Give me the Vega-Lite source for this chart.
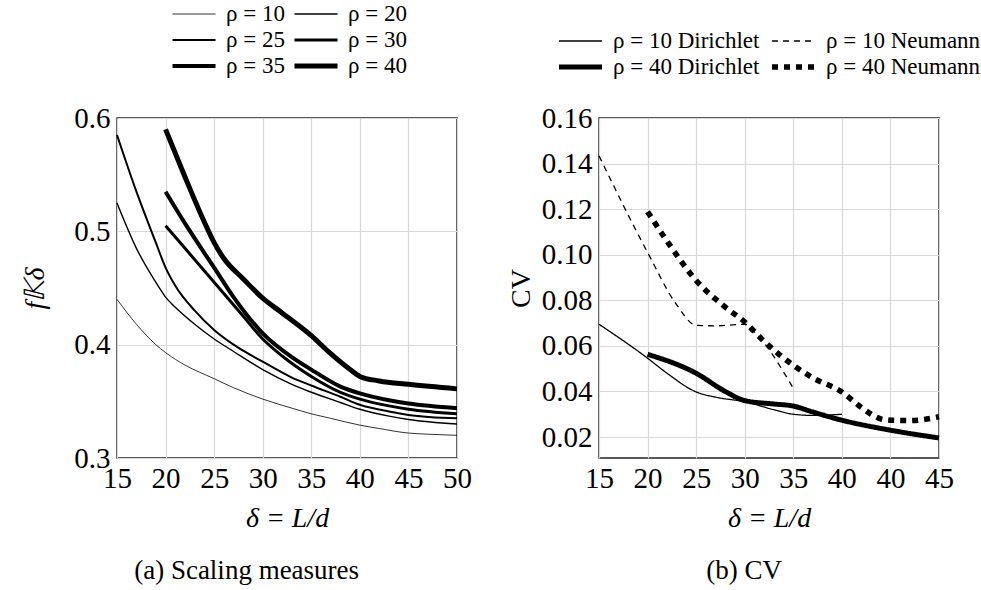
{
  "$schema": "https://vega.github.io/schema/vega-lite/v6.json",
  "padding": {"left": 21, "top": 0, "right": 5, "bottom": 0},
  "background": "white",
  "config": {
    "font": "Liberation Serif",
    "view": {"stroke": "#222", "strokeWidth": 1.5},
    "axis": {
      "grid": true, "gridColor": "#d8d8d8", "gridWidth": 1.2,
      "domain": false, "ticks": false, "labelFlush": false, "labelOverlap": false,
      "labelFontSize": 29, "labelColor": "black", "labelFont": "Liberation Serif",
      "titleFontSize": 28, "titleFontWeight": "normal", "titleColor": "black", "titleFont": "Liberation Serif"
    },
    "legend": {
      "symbolType": "stroke", "symbolSize": 1849, "symbolStrokeColor": "black",
      "labelFontSize": 23, "labelColor": "black", "labelFont": "Liberation Serif",
      "clipHeight": 26, "rowPadding": 0, "labelOffset": 8, "direction": "horizontal"
    },
    "title": {"fontSize": 27, "fontWeight": "normal", "color": "black", "font": "Liberation Serif"}
  },
  "spacing": 33,
  "resolve": {
    "scale": {"strokeWidth": "independent", "strokeDash": "independent"},
    "legend": {"strokeWidth": "independent", "strokeDash": "independent"}
  },
  "hconcat": [
    {
      "width": 340,
      "height": 340,
      "title": {"text": "(a)  Scaling measures", "orient": "bottom", "anchor": "middle", "frame": "bounds", "offset": 26},
      "data": {"values": [
        {"rho": "ρ = 10", "delta": 15, "f": 0.440}, {"rho": "ρ = 10", "delta": 17, "f": 0.418}, {"rho": "ρ = 10", "delta": 19, "f": 0.400}, {"rho": "ρ = 10", "delta": 20, "f": 0.393}, {"rho": "ρ = 10", "delta": 22, "f": 0.382}, {"rho": "ρ = 10", "delta": 25, "f": 0.370}, {"rho": "ρ = 10", "delta": 27, "f": 0.362}, {"rho": "ρ = 10", "delta": 30, "f": 0.352}, {"rho": "ρ = 10", "delta": 33, "f": 0.344}, {"rho": "ρ = 10", "delta": 35, "f": 0.339}, {"rho": "ρ = 10", "delta": 37, "f": 0.335}, {"rho": "ρ = 10", "delta": 40, "f": 0.329}, {"rho": "ρ = 10", "delta": 42, "f": 0.326}, {"rho": "ρ = 10", "delta": 45, "f": 0.322}, {"rho": "ρ = 10", "delta": 47, "f": 0.321}, {"rho": "ρ = 10", "delta": 50, "f": 0.320},
        {"rho": "ρ = 20", "delta": 15, "f": 0.525}, {"rho": "ρ = 20", "delta": 17, "f": 0.485}, {"rho": "ρ = 20", "delta": 19, "f": 0.455}, {"rho": "ρ = 20", "delta": 20, "f": 0.442}, {"rho": "ρ = 20", "delta": 21, "f": 0.433}, {"rho": "ρ = 20", "delta": 23, "f": 0.418}, {"rho": "ρ = 20", "delta": 25, "f": 0.405}, {"rho": "ρ = 20", "delta": 27, "f": 0.394}, {"rho": "ρ = 20", "delta": 30, "f": 0.378}, {"rho": "ρ = 20", "delta": 33, "f": 0.365}, {"rho": "ρ = 20", "delta": 35, "f": 0.358}, {"rho": "ρ = 20", "delta": 38, "f": 0.349}, {"rho": "ρ = 20", "delta": 40, "f": 0.343}, {"rho": "ρ = 20", "delta": 43, "f": 0.337}, {"rho": "ρ = 20", "delta": 45, "f": 0.334}, {"rho": "ρ = 20", "delta": 50, "f": 0.330},
        {"rho": "ρ = 25", "delta": 15, "f": 0.585}, {"rho": "ρ = 25", "delta": 17, "f": 0.535}, {"rho": "ρ = 25", "delta": 19, "f": 0.490}, {"rho": "ρ = 25", "delta": 20, "f": 0.468}, {"rho": "ρ = 25", "delta": 21, "f": 0.452}, {"rho": "ρ = 25", "delta": 23, "f": 0.430}, {"rho": "ρ = 25", "delta": 25, "f": 0.413}, {"rho": "ρ = 25", "delta": 27, "f": 0.400}, {"rho": "ρ = 25", "delta": 30, "f": 0.385}, {"rho": "ρ = 25", "delta": 33, "f": 0.371}, {"rho": "ρ = 25", "delta": 35, "f": 0.364}, {"rho": "ρ = 25", "delta": 38, "f": 0.354}, {"rho": "ρ = 25", "delta": 40, "f": 0.347}, {"rho": "ρ = 25", "delta": 43, "f": 0.341}, {"rho": "ρ = 25", "delta": 45, "f": 0.338}, {"rho": "ρ = 25", "delta": 50, "f": 0.335},
        {"rho": "ρ = 30", "delta": 20, "f": 0.505}, {"rho": "ρ = 30", "delta": 22, "f": 0.485}, {"rho": "ρ = 30", "delta": 25, "f": 0.455}, {"rho": "ρ = 30", "delta": 28, "f": 0.425}, {"rho": "ρ = 30", "delta": 30, "f": 0.405}, {"rho": "ρ = 30", "delta": 32, "f": 0.390}, {"rho": "ρ = 30", "delta": 35, "f": 0.372}, {"rho": "ρ = 30", "delta": 38, "f": 0.358}, {"rho": "ρ = 30", "delta": 40, "f": 0.352}, {"rho": "ρ = 30", "delta": 43, "f": 0.346}, {"rho": "ρ = 30", "delta": 45, "f": 0.343}, {"rho": "ρ = 30", "delta": 50, "f": 0.339},
        {"rho": "ρ = 35", "delta": 20, "f": 0.535}, {"rho": "ρ = 35", "delta": 22, "f": 0.507}, {"rho": "ρ = 35", "delta": 25, "f": 0.468}, {"rho": "ρ = 35", "delta": 27, "f": 0.442}, {"rho": "ρ = 35", "delta": 30, "f": 0.410}, {"rho": "ρ = 35", "delta": 33, "f": 0.389}, {"rho": "ρ = 35", "delta": 35, "f": 0.378}, {"rho": "ρ = 35", "delta": 38, "f": 0.363}, {"rho": "ρ = 35", "delta": 40, "f": 0.357}, {"rho": "ρ = 35", "delta": 43, "f": 0.351}, {"rho": "ρ = 35", "delta": 45, "f": 0.348}, {"rho": "ρ = 35", "delta": 50, "f": 0.344},
        {"rho": "ρ = 40", "delta": 20, "f": 0.590}, {"rho": "ρ = 40", "delta": 22, "f": 0.548}, {"rho": "ρ = 40", "delta": 24, "f": 0.508}, {"rho": "ρ = 40", "delta": 25, "f": 0.490}, {"rho": "ρ = 40", "delta": 26, "f": 0.476}, {"rho": "ρ = 40", "delta": 28, "f": 0.458}, {"rho": "ρ = 40", "delta": 30, "f": 0.441}, {"rho": "ρ = 40", "delta": 32, "f": 0.428}, {"rho": "ρ = 40", "delta": 35, "f": 0.408}, {"rho": "ρ = 40", "delta": 37, "f": 0.392}, {"rho": "ρ = 40", "delta": 39, "f": 0.378}, {"rho": "ρ = 40", "delta": 40, "f": 0.372}, {"rho": "ρ = 40", "delta": 42, "f": 0.368}, {"rho": "ρ = 40", "delta": 45, "f": 0.365}, {"rho": "ρ = 40", "delta": 50, "f": 0.361}
      ]},
      "mark": {"type": "line", "interpolate": "monotone", "color": "black", "strokeJoin": "round"},
      "encoding": {
        "x": {"field": "delta", "type": "quantitative",
          "scale": {"domain": [15, 50], "nice": false},
          "axis": {"values": [15, 20, 25, 30, 35, 40, 45, 50], "title": "δ = L/d", "titleFontStyle": "italic", "labelPadding": 6, "titlePadding": 11}},
        "y": {"field": "f", "type": "quantitative",
          "scale": {"domain": [0.3, 0.6], "nice": false, "zero": false},
          "axis": {"values": [0.3, 0.4, 0.5, 0.6], "format": ".1f", "title": "f𝕂δ", "titleFontStyle": "italic", "labelPadding": 7, "titlePadding": 24}},
        "strokeWidth": {"field": "rho", "type": "ordinal",
          "scale": {"type": "ordinal", "domain": ["ρ = 10", "ρ = 20", "ρ = 25", "ρ = 30", "ρ = 35", "ρ = 40"], "range": [0.8, 1.4, 2, 3, 4, 5]},
          "legend": {"orient": "none", "legendX": 53, "legendY": -117, "columns": 2, "title": null, "columnPadding": 7}}
      }
    },
    {
      "width": 340,
      "height": 340,
      "title": {"text": "(b)  CV", "orient": "bottom", "anchor": "middle", "frame": "bounds", "offset": 26},
      "data": {"values": [
        {"series": "ρ = 10 Dirichlet", "delta": 15, "cv": 0.0695}, {"series": "ρ = 10 Dirichlet", "delta": 20, "cv": 0.0546}, {"series": "ρ = 10 Dirichlet", "delta": 22, "cv": 0.048}, {"series": "ρ = 10 Dirichlet", "delta": 25, "cv": 0.0398}, {"series": "ρ = 10 Dirichlet", "delta": 27, "cv": 0.0375}, {"series": "ρ = 10 Dirichlet", "delta": 30, "cv": 0.0355}, {"series": "ρ = 10 Dirichlet", "delta": 33, "cv": 0.032}, {"series": "ρ = 10 Dirichlet", "delta": 35, "cv": 0.030}, {"series": "ρ = 10 Dirichlet", "delta": 37, "cv": 0.0295}, {"series": "ρ = 10 Dirichlet", "delta": 40, "cv": 0.030},
        {"series": "ρ = 10 Neumann", "delta": 15, "cv": 0.1434}, {"series": "ρ = 10 Neumann", "delta": 20, "cv": 0.101}, {"series": "ρ = 10 Neumann", "delta": 23, "cv": 0.078}, {"series": "ρ = 10 Neumann", "delta": 25, "cv": 0.069}, {"series": "ρ = 10 Neumann", "delta": 27, "cv": 0.0688}, {"series": "ρ = 10 Neumann", "delta": 30, "cv": 0.0695}, {"series": "ρ = 10 Neumann", "delta": 31, "cv": 0.066}, {"series": "ρ = 10 Neumann", "delta": 35, "cv": 0.0414},
        {"series": "ρ = 40 Dirichlet", "delta": 20, "cv": 0.0563}, {"series": "ρ = 40 Dirichlet", "delta": 25, "cv": 0.048}, {"series": "ρ = 40 Dirichlet", "delta": 28, "cv": 0.040}, {"series": "ρ = 40 Dirichlet", "delta": 30, "cv": 0.036}, {"series": "ρ = 40 Dirichlet", "delta": 33, "cv": 0.0345}, {"series": "ρ = 40 Dirichlet", "delta": 35, "cv": 0.0336}, {"series": "ρ = 40 Dirichlet", "delta": 37, "cv": 0.031}, {"series": "ρ = 40 Dirichlet", "delta": 40, "cv": 0.0274}, {"series": "ρ = 40 Dirichlet", "delta": 45, "cv": 0.023}, {"series": "ρ = 40 Dirichlet", "delta": 50, "cv": 0.0196},
        {"series": "ρ = 40 Neumann", "delta": 20, "cv": 0.1189}, {"series": "ρ = 40 Neumann", "delta": 22, "cv": 0.106}, {"series": "ρ = 40 Neumann", "delta": 25, "cv": 0.0887}, {"series": "ρ = 40 Neumann", "delta": 28, "cv": 0.077}, {"series": "ρ = 40 Neumann", "delta": 30, "cv": 0.0705}, {"series": "ρ = 40 Neumann", "delta": 32, "cv": 0.062}, {"series": "ρ = 40 Neumann", "delta": 35, "cv": 0.0515}, {"series": "ρ = 40 Neumann", "delta": 37, "cv": 0.046}, {"series": "ρ = 40 Neumann", "delta": 40, "cv": 0.0398}, {"series": "ρ = 40 Neumann", "delta": 42, "cv": 0.033}, {"series": "ρ = 40 Neumann", "delta": 44, "cv": 0.028}, {"series": "ρ = 40 Neumann", "delta": 45, "cv": 0.0274}, {"series": "ρ = 40 Neumann", "delta": 47, "cv": 0.0272}, {"series": "ρ = 40 Neumann", "delta": 50, "cv": 0.0289}
      ]},
      "mark": {"type": "line", "interpolate": "monotone", "color": "black", "strokeCap": "butt", "strokeJoin": "round"},
      "encoding": {
        "x": {"field": "delta", "type": "quantitative",
          "scale": {"domain": [15, 50], "nice": false},
          "axis": {"values": [15, 20, 25, 30, 35, 40, 45, 50], "labelExpr": "datum.value == 45 ? '40' : datum.value == 50 ? '45' : datum.label", "title": "δ = L/d", "titleFontStyle": "italic", "labelPadding": 6, "titlePadding": 11}},
        "y": {"field": "cv", "type": "quantitative",
          "scale": {"domain": [0.0108, 0.16], "nice": false, "zero": false},
          "axis": {"values": [0.02, 0.04, 0.06, 0.08, 0.10, 0.12, 0.14, 0.16], "format": ".2f", "title": "CV", "labelPadding": 7, "titlePadding": 6}},
        "strokeWidth": {"field": "series", "type": "ordinal",
          "scale": {"type": "ordinal", "domain": ["ρ = 10 Dirichlet", "ρ = 10 Neumann", "ρ = 40 Dirichlet", "ρ = 40 Neumann"], "range": [1.3, 1.3, 5, 5.5]},
          "legend": {"orient": "none", "legendX": -43, "legendY": -90, "columns": 2, "title": null, "columnPadding": 9}},
        "strokeDash": {"field": "series", "type": "ordinal",
          "scale": {"domain": ["ρ = 10 Dirichlet", "ρ = 10 Neumann", "ρ = 40 Dirichlet", "ρ = 40 Neumann"], "range": [[1, 0], [6, 5], [1, 0], [6, 6]]},
          "legend": {"orient": "none", "legendX": -43, "legendY": -90, "columns": 2, "title": null, "columnPadding": 9}}
      }
    }
  ]
}
